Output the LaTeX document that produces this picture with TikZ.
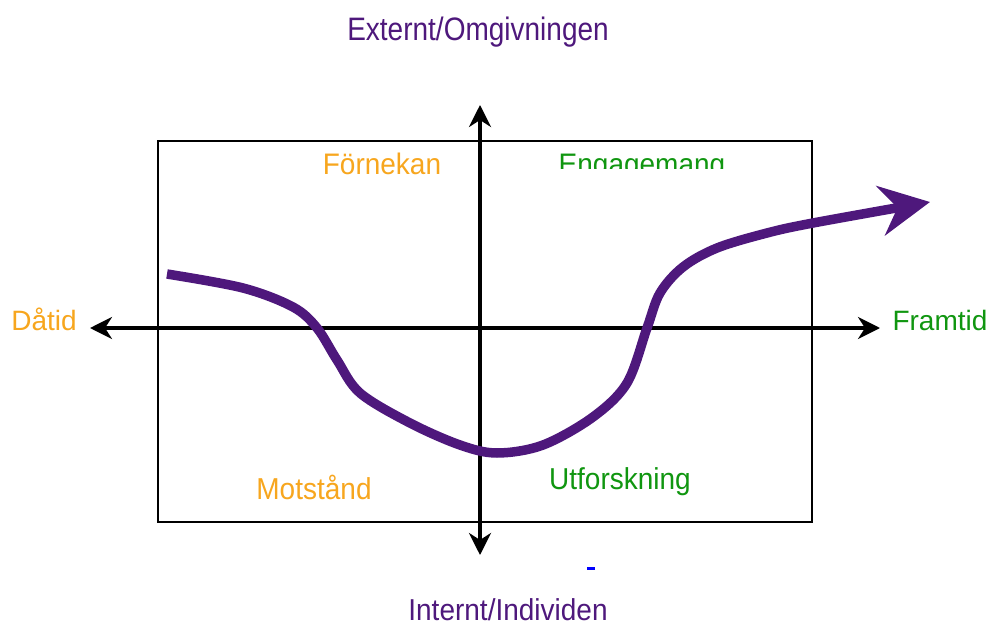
\documentclass[tikz,border=0pt]{standalone}
\usepackage{fontspec}
\setmainfont{Liberation Sans}
\usepackage{graphicx}
\usepackage{tikz}
\usetikzlibrary{arrows.meta,positioning}
\definecolor{lila}{RGB}{78,24,124}
\definecolor{orange}{RGB}{247,166,30}
\definecolor{gron}{RGB}{16,150,16}
\newcommand{\hojd}[2]{\scalebox{1}[#1]{#2}}

\begin{document}
\begin{tikzpicture}[x=1pt,y=-1pt,
  axel/.style={line width=3.5pt,{Stealth[length=22pt,width=22pt,inset=7pt]}-{Stealth[length=22pt,width=22pt,inset=7pt]}},
  etikett/.style={font=\fontsize{28}{30}\selectfont,inner sep=0pt}]
 \useasboundingbox (0,0) rectangle (992,628);
 \draw[line width=2pt] (158,141) rectangle (812,522);
 % axlar
 \coordinate (V) at (90,328);
 \coordinate (H) at (880,328);
 \coordinate (U) at (480,105);
 \coordinate (N) at (480,555);
 \draw[axel] (V) -- (H);
 \draw[axel] (U) -- (N);
 \node[etikett,text=lila,anchor=base] (ext) at (478,41) {\hojd{1.16}{Externt/Omgivningen}};
 \node[etikett,text=lila,anchor=base] (int) at (508,620) {\hojd{1.08}{Internt/Individen}};
 \node[etikett,text=orange,anchor=base] (dat) at (44,330) {Dåtid};
 \node[etikett,text=gron,anchor=base] (fra) at (940,330) {Framtid};
 \node[etikett,text=orange,anchor=base] (forn) at (382,175) {\hojd{1.06}{Förnekan}};
 \begin{scope}
  \clip (520,100) rectangle (760,169);
  \node[etikett,text=gron,anchor=base] (eng) at (642,175) {\hojd{1.06}{Engagemang}};
 \end{scope}
 \node[etikett,text=orange] (mot) at (314,487) {\hojd{1.08}{Motstånd}};
 \node[etikett,text=gron,anchor=base] (utf) at (620,489) {\hojd{1.08}{Utforskning}};
 \fill[blue] (587,566.5) rectangle (595,570);
 % kurvan
 \draw[lila,line width=9.5pt,-{Stealth[length=50pt,width=50pt,inset=17pt]}]
   plot[smooth,tension=0.55] coordinates {(167,274) (243,288) (293,307) (317,328)
   (337,360) (360,393) (410,423) (460,445) (497,453) (543,445) (593,417)
   (627,383) (647,328) (660,293) (683,267) (717,248) (767,233) (813,223) (930,202)};
\end{tikzpicture}
\end{document}
